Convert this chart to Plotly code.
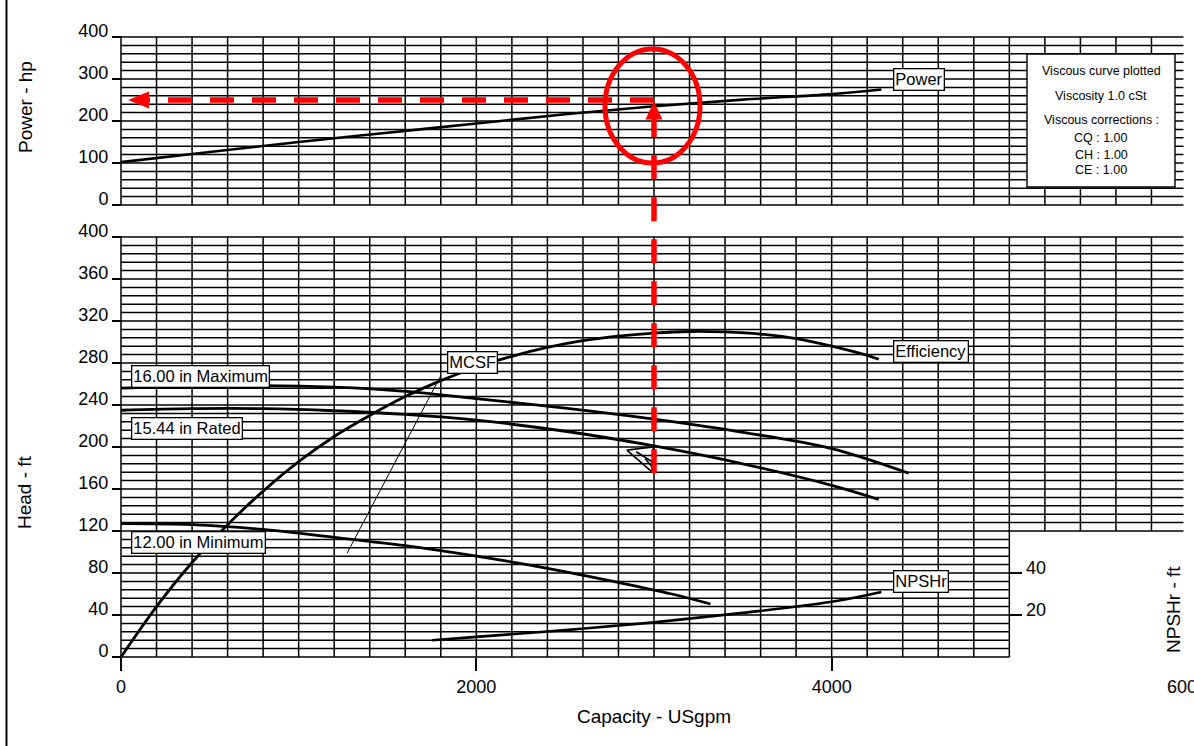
import plotly.graph_objects as go

# ---------------- pump performance data (capacity in USgpm) ----------------
power_q = [0, 500, 1000, 1500, 2000, 2500, 3000, 3500, 4000, 4280]
power_hp = [102, 126, 150, 172, 194, 216, 235, 251, 264, 275]

eff_q = [0, 200, 400, 600, 800, 1000, 1200, 1400, 1600, 1800, 2000, 2200,
         2400, 2600, 2800, 3000, 3200, 3400, 3600, 3800, 4000, 4200, 4265]
eff_pct = [0, 12, 22.5, 31.5, 39.5, 46.5, 52.5, 57.5, 62, 65.8, 69, 71.6,
           73.7, 75.3, 76.4, 77.1, 77.5, 77.4, 76.9, 75.8, 74, 71.8, 70.9]

max_q = [0, 400, 800, 1200, 1600, 2000, 2500, 3000, 3500, 4000, 4434]
max_head = [256, 258, 258.5, 257, 253, 246, 237, 226.5, 214, 198.5, 175]

rated_q = [0, 400, 800, 1200, 1600, 2000, 2500, 3000, 3500, 4000, 4265]
rated_head = [235, 236.5, 236.5, 234.5, 231, 225.5, 215, 201, 184, 163.5, 150]

min_q = [0, 400, 800, 1200, 1600, 2000, 2400, 2800, 3100, 3318]
min_head = [127, 126, 121.5, 114, 106, 96, 84.5, 71, 60, 50.5]

npsh_q = [1750, 2000, 2500, 3000, 3500, 4000, 4280]
npsh_ft = [8, 9.6, 12.8, 16.5, 21, 26.3, 31]

mcsf_q = [1273, 1797]
mcsf_head = [99, 267]

# rated duty point marker (hatched triangle pointing at the rated point)
rated_mark_q = [2847, 2996, 2987, 2847, None, 2900, 2990, None, 2950, 2989]
rated_mark_head = [197, 200, 176.5, 197, None, 195.5, 186, None, 189, 181]

# duty point read-off
read_flow = 3000
read_power = 250
read_head_start = 175

# tick labels
x_ticks = [0, 2000, 4000]
x_end_tick = [6000]
power_ticks = [0, 100, 200, 300, 400]
head_ticks = [0, 40, 80, 120, 160, 200, 240, 280, 320, 360, 400]
npsh_ticks = [20, 40]

viscous_lines = ["Viscous curve plotted", "Viscosity 1.0 cSt", "Viscous corrections :",
                 "CQ : 1.00", "CH : 1.00", "CE : 1.00"]

# ---------------- page geometry ----------------
W, H = 1194, 746
L, R, T, B = 117, 3, 30, 80
PW, PH = W - L - R, H - T - B
X0_PX, X_SCALE = 121.0, 1066 / 6000          # px position of 0 gpm, px per gpm
P0_PX, P_SCALE = 205.0, 0.42                 # power panel: px of 0 hp, px per hp
H0_PX, H_SCALE = 657.0, 1.05                 # head panel: px of 0 ft, px per ft


def q_at(px):
    return (px - X0_PX) / X_SCALE


def px_x(px):
    return (px - L) / PW


def px_y(py):
    return (H - B - py) / PH


def power_py(v):
    return P0_PX - P_SCALE * v


def head_py(v):
    return H0_PX - H_SCALE * v


x_range = [q_at(L), q_at(W - R)]
power_range = [(P0_PX - 208) / P_SCALE, (P0_PX - 34) / P_SCALE]
head_range = [(H0_PX - 661) / H_SCALE, (H0_PX - 233) / H_SCALE]
npsh_range = [v / 2 for v in head_range]
eff_range = [v / 4 for v in head_range]

FONT = "Liberation Sans, Arial, Helvetica, sans-serif"
INK = "#000000"
RED = "#ff0000"

fig = go.Figure()

# ---------------- chart grids ----------------
GRID_END = 5980
gx, gy = [], []
for p in range(0, 401, 20):
    gx += [0, GRID_END, None]
    gy += [p, p, None]
for q in range(0, 6000, 200):
    gx += [q, q, None]
    gy += [0, 400, None]
fig.add_trace(go.Scatter(x=gx, y=gy, xaxis="x2", yaxis="y2", mode="lines",
                         line=dict(color=INK, width=1.5), hoverinfo="skip", showlegend=False))

hx, hy = [], []
for h in range(0, 401, 8):
    hx += [0, GRID_END if h >= 120 else 5000, None]
    hy += [h, h, None]
for q in range(0, 6000, 200):
    hx += [q, q, None]
    hy += [0 if q <= 5000 else 120, 400, None]
fig.add_trace(go.Scatter(x=hx, y=hy, xaxis="x", yaxis="y", mode="lines",
                         line=dict(color=INK, width=1.5), hoverinfo="skip", showlegend=False))
# the right-hand capacity label axis shares the head panel
fig.add_trace(go.Scatter(x=[None], y=[None], xaxis="x3", yaxis="y", mode="lines",
                         hoverinfo="skip", showlegend=False))

# ---------------- curves ----------------
fig.add_trace(go.Scatter(x=power_q, y=power_hp, xaxis="x2", yaxis="y2", mode="lines",
                         line=dict(color=INK, width=2.6, shape="spline"), showlegend=False))
fig.add_trace(go.Scatter(x=eff_q, y=eff_pct, xaxis="x", yaxis="y4", mode="lines",
                         line=dict(color=INK, width=2.8, shape="spline"), showlegend=False))
for qq, hh in ((max_q, max_head), (rated_q, rated_head), (min_q, min_head)):
    fig.add_trace(go.Scatter(x=qq, y=hh, xaxis="x", yaxis="y", mode="lines",
                             line=dict(color=INK, width=2.8, shape="spline"), showlegend=False))
fig.add_trace(go.Scatter(x=npsh_q, y=npsh_ft, xaxis="x", yaxis="y3", mode="lines",
                         line=dict(color=INK, width=2.6, shape="spline"), showlegend=False))
fig.add_trace(go.Scatter(x=mcsf_q, y=mcsf_head, xaxis="x", yaxis="y", mode="lines",
                         line=dict(color=INK, width=1.0), showlegend=False))
fig.add_trace(go.Scatter(x=rated_mark_q, y=rated_mark_head, xaxis="x", yaxis="y", mode="lines",
                         line=dict(color=INK, width=1.6), showlegend=False))

# ---------------- curve labels ----------------
label_font = dict(family=FONT, size=16.5, color=INK)


def curve_label(text, q, v, yref):
    fig.add_annotation(text=text, x=q, y=v, xref="x", yref=yref, xanchor="left",
                       yanchor="middle", showarrow=False, font=label_font,
                       bgcolor="white", bordercolor=INK, borderwidth=1.3, borderpad=1)


curve_label("Power", q_at(893), (P0_PX - 79) / P_SCALE, "y2")
curve_label("Efficiency", q_at(893), (H0_PX - 351) / H_SCALE, "y")
curve_label("MCSF", q_at(447), (H0_PX - 362) / H_SCALE, "y")
curve_label("16.00 in Maximum", q_at(131), (H0_PX - 376) / H_SCALE, "y")
curve_label("15.44 in Rated", q_at(131), (H0_PX - 428) / H_SCALE, "y")
curve_label("12.00 in Minimum", q_at(131), (H0_PX - 542) / H_SCALE, "y")
curve_label("NPSHr", q_at(893), (H0_PX - 581) / H_SCALE, "y")

# ---------------- viscosity note box ----------------
shapes = [dict(type="rect", xref="paper", yref="paper",
               x0=px_x(1027), x1=px_x(1175), y0=px_y(187), y1=px_y(54),
               line=dict(color=INK, width=1.4), fillcolor="white", layer="above")]
for text, py in zip(viscous_lines, [71, 96, 120, 138, 155, 170]):
    fig.add_annotation(text=text, x=px_x(1101), y=px_y(py), xref="paper", yref="paper",
                       showarrow=False, xanchor="center", yanchor="middle",
                       font=dict(family=FONT, size=12.5, color=INK))

# ---------------- axis titles ----------------
title_font = dict(family=FONT, size=19, color=INK)
for text, cx, cy in (("Power - hp", 25, 107), ("Head - ft", 25, 492), ("NPSHr - ft", 1173, 610)):
    fig.add_annotation(text=text, x=px_x(cx), y=px_y(cy), xref="paper", yref="paper",
                       showarrow=False, textangle=-90, xanchor="center", yanchor="middle",
                       font=title_font)

# ---------------- page border ----------------
shapes.append(dict(type="line", xref="paper", yref="paper", x0=px_x(6.5), x1=px_x(6.5),
                   y0=px_y(0), y1=px_y(H), line=dict(color=INK, width=2)))

# ---------------- duty point read-off (red) ----------------
xr = read_flow
yp_power = px_y(power_py(read_power))
yp_head = px_y(head_py(read_head_start))
arrow_len_x = 21 / X_SCALE
arrow_half_x = 8.5 / X_SCALE
x_tip_left = q_at(128)
# horizontal dashed line to the power axis
shapes.append(dict(type="path", xref="x", yref="paper",
                   path=f"M {xr} {yp_power} L {x_tip_left + arrow_len_x} {yp_power}",
                   line=dict(color=RED, width=5.5, dash="24px,18px")))
shapes.append(dict(type="path", xref="x", yref="paper",
                   path=(f"M {x_tip_left} {yp_power} L {x_tip_left + arrow_len_x} {yp_power + 8.5 / PH} "
                         f"L {x_tip_left + arrow_len_x} {yp_power - 8.5 / PH} Z"),
                   line=dict(color=RED, width=0), fillcolor=RED))
# vertical dashed line up to the power curve
y_tip = px_y(power_py(read_power) + 1.5)
shapes.append(dict(type="path", xref="x", yref="paper",
                   path=f"M {xr} {yp_head} L {xr} {y_tip - 17 / PH}",
                   line=dict(color=RED, width=5.5, dash="24px,18px")))
shapes.append(dict(type="path", xref="x", yref="paper",
                   path=(f"M {xr} {y_tip} L {xr - arrow_half_x} {y_tip - 18 / PH} "
                         f"L {xr + arrow_half_x} {y_tip - 18 / PH} Z"),
                   line=dict(color=RED, width=0), fillcolor=RED))
# ring round the read-off point
shapes.append(dict(type="circle", xref="x2", yref="y2",
                   x0=q_at(605), x1=q_at(700),
                   y0=(P0_PX - 163) / P_SCALE, y1=(P0_PX - 49) / P_SCALE,
                   line=dict(color=RED, width=5)))

tick_font = dict(family=FONT, size=18, color=INK)
common_y = dict(showgrid=False, zeroline=False, showline=False, ticks="outside",
                ticklen=9, tickwidth=1.5, tickcolor=INK, tickfont=tick_font,
                ticklabelshift=-6, fixedrange=True, automargin=False)
common_x = dict(range=x_range, domain=[0, 1], anchor="free", position=px_y(H0_PX),
                ticks="outside", ticklen=13, tickwidth=1.5, tickfont=tick_font,
                showgrid=False, zeroline=False, showline=False,
                ticklabeloverflow="allow", automargin=False, fixedrange=True)

fig.update_layout(
    width=W, height=H,
    margin=dict(l=L, r=R, t=T, b=B, pad=0, autoexpand=False),
    paper_bgcolor="white", plot_bgcolor="rgba(0,0,0,0)",
    showlegend=False,
    font=dict(family=FONT, color=INK),
    shapes=shapes,
    xaxis=dict(tickvals=x_ticks, tickcolor=INK,
               title=dict(text="Capacity - USgpm", font=title_font, standoff=14),
               **common_x),
    # last capacity label sits at the page edge without a tick mark
    xaxis3=dict(tickvals=x_end_tick, tickcolor="rgba(0,0,0,0)", overlaying="x",
                side="bottom", **common_x),
    xaxis2=dict(range=x_range, domain=[0, 1], anchor="y2", matches="x", visible=False,
                automargin=False),
    yaxis=dict(range=head_range, domain=[px_y(661), px_y(233)], anchor="free",
               position=px_x(X0_PX), tickvals=head_ticks, **common_y),
    yaxis2=dict(range=power_range, domain=[px_y(208), px_y(34)], anchor="free",
                position=px_x(X0_PX), tickvals=power_ticks, **common_y),
    yaxis3=dict(range=npsh_range, overlaying="y", anchor="free", side="right",
                position=px_x(X0_PX + 5000 * X_SCALE), tickvals=npsh_ticks,
                **{**common_y, "ticklen": 12, "ticklabelshift": -5}),
    yaxis4=dict(range=eff_range, overlaying="y", visible=False, automargin=False),
)

fig.write_html("out.html")
